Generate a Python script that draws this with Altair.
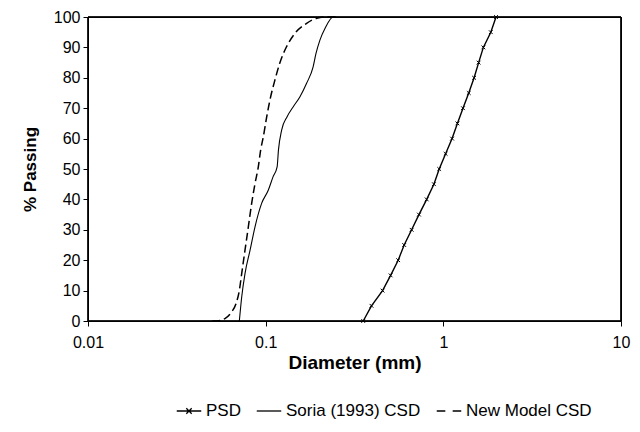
import altair as alt
import pandas as pd

series_names = ["PSD", "Soria (1993) CSD", "New Model CSD"]

psd_d = [0.354, 0.394, 0.455, 0.505, 0.557, 0.602, 0.663, 0.729, 0.806, 0.885, 0.948,
         1.03, 1.12, 1.20, 1.29, 1.39, 1.49, 1.58, 1.68, 1.85, 1.98]
psd_p = [0, 5, 10, 15, 20, 25, 30, 35, 40, 45, 50, 55, 60, 65, 70, 75, 80, 85, 90, 95, 100]

soria_d = [0.0711, 0.0733, 0.0765, 0.0817, 0.0871, 0.0949, 0.1034, 0.110, 0.116, 0.118,
           0.123, 0.132, 0.143, 0.156, 0.170, 0.185, 0.192, 0.202, 0.216, 0.240, 0.25]
soria_p = [0, 7.9, 15.6, 23.3, 31.0, 38.7, 43.0, 47.4, 50.7, 56.2,
           62.8, 67.2, 70.5, 73.8, 78.2, 83.6, 88.0, 92.4, 96.3, 100, 100]

nm_d = [0.050, 0.0530, 0.059, 0.0644, 0.0681, 0.0711, 0.0733, 0.0765, 0.0799, 0.0834,
        0.0871, 0.0909, 0.0937, 0.0970, 0.1014, 0.1057, 0.1128, 0.120, 0.131, 0.146,
        0.170, 0.194, 0.220, 0.25]
nm_p = [0, 0, 0.8, 3.0, 5.7, 10.1, 15.6, 23.3, 31.0, 38.7,
        45.2, 50.7, 56.2, 60.6, 67.2, 72.7, 79.3, 84.8, 90.2, 94.6,
        97.9, 99.6, 100, 100]

x_ticks = [0.01, 0.1, 1, 10]
y_ticks = [0, 10, 20, 30, 40, 50, 60, 70, 80, 90, 100]

legend_paths = [
    "M-1,0L1,0M-0.22,-0.22L0.22,0.22M-0.22,0.22L0.22,-0.22",
    "M-1,0L1,0",
    "M-1,0L-0.3,0M0.3,0L1,0",
]

W, H = 533, 304


def frame(name, d, p):
    return pd.DataFrame({"series": name, "d": d, "p": p})


psd_df = frame(series_names[0], psd_d, psd_p)
soria_df = frame(series_names[1], soria_d, soria_p)
nm_df = frame(series_names[2], nm_d, nm_p)
legend_df = pd.DataFrame({"series": series_names})

FONT = "Liberation Sans"

x_enc = alt.X(
    "d:Q",
    scale=alt.Scale(type="log", domain=[0.01, 10]),
    axis=alt.Axis(values=x_ticks, format="~g", title="Diameter (mm)",
                  labelPadding=8, titlePadding=3, labelFlush=False, labelOverlap=False,
                  titleFontSize=19),
)
y_enc = alt.Y(
    "p:Q",
    scale=alt.Scale(domain=[0, 100]),
    axis=alt.Axis(values=y_ticks, tickCount=11, title="% Passing", labelPadding=3,
                  titlePadding=14, labelOverlap=False, titleFontSize=17),
)

psd_line = alt.Chart(psd_df).mark_line(color="black", strokeWidth=1.4).encode(x=x_enc, y=y_enc)
psd_pts = alt.Chart(psd_df).mark_point(
    shape="M-1,-1L1,1M-1,1L1,-1", size=14, color="black", strokeWidth=1, filled=False, opacity=1
).encode(x=x_enc, y=y_enc)
soria_line = alt.Chart(soria_df).mark_line(
    color="black", strokeWidth=1.1, interpolate="monotone"
).encode(x=x_enc, y=y_enc)
nm_line = alt.Chart(nm_df).mark_line(
    color="black", strokeWidth=1.5, strokeDash=[8, 4], interpolate="monotone"
).encode(x=x_enc, y=y_enc)

frame_rect = alt.Chart(legend_df).mark_rect(
    fill=None, stroke="black", strokeWidth=1
).encode(x=alt.value(0), x2=alt.value(W), y=alt.value(0), y2=alt.value(H))

legend_layer = alt.Chart(legend_df).mark_point(
    color="black", opacity=0, filled=False
).encode(
    shape=alt.Shape(
        "series:N",
        scale=alt.Scale(domain=series_names, range=legend_paths),
        legend=alt.Legend(
            title=None, orient="none", direction="horizontal", columns=3,
            legendX=88, legendY=381, symbolOpacity=1, symbolSize=600,
            symbolStrokeColor="black", symbolStrokeWidth=1.3,
            labelFont=FONT, labelFontSize=17, labelColor="black",
            labelOffset=4, columnPadding=13, padding=0,
        ),
    )
)

chart = alt.layer(psd_line, soria_line, nm_line, psd_pts, frame_rect, legend_layer).properties(
    width=W, height=H,
    autosize=alt.AutoSizeParams(type="none"),
    padding={"left": 80, "top": 9, "right": 10, "bottom": 106},
).configure_view(
    stroke="black", strokeWidth=1
).configure_axis(
    grid=False, domainColor="black", tickColor="black", labelColor="black",
    titleColor="black", labelFont=FONT, titleFont=FONT, labelFontSize=16,
    titleFontSize=17, titleFontWeight="bold", tickSize=5, domainWidth=1,
)

chart.save("out.html", embed_options={"renderer": "svg", "actions": False})
